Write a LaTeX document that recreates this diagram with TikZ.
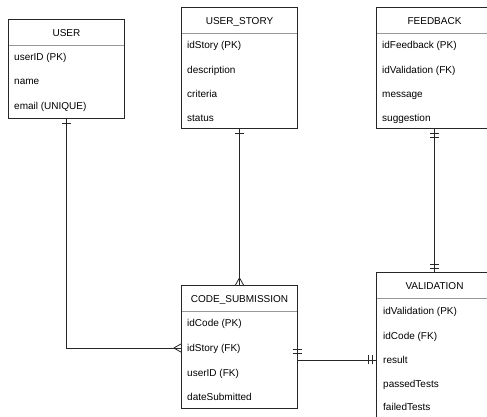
\documentclass[tikz,border=0pt]{standalone}
\usepackage{fontspec}
\setmainfont{Liberation Sans}
\usetikzlibrary{positioning, decorations.markings}

\begin{document}
\begin{tikzpicture}[x=1pt, y=-1pt,
     node distance = 0pt,
        head/.style = {minimum width=115pt, minimum height=25pt, inner sep=0pt,
                       text height=7pt, text depth=0pt, font=\fontsize{10}{12}\selectfont},
        body/.style = {minimum width=115pt, inner sep=0pt},
        attr/.style = {anchor=west, inner sep=0pt, text height=7pt, text depth=0pt,
                       font=\fontsize{10}{12}\selectfont},
       frame/.style = {draw=black!85, line width=0.8pt},
       hline/.style = {draw=black!40, line width=1.1pt},
        conn/.style = {draw=black!85, line width=0.8pt},
 erone start/.style = {postaction={decorate, decoration={markings,
                       mark=at position 5pt with {\draw[conn] (0,-4.5pt) -- (0,4.5pt);}}}},
 ermandone start/.style = {postaction={decorate, decoration={markings,
                       mark=at position 5pt with {\draw[conn] (0,-4.5pt) -- (0,4.5pt);},
                       mark=at position 9pt with {\draw[conn] (0,-4.5pt) -- (0,4.5pt);}}}},
 ermandone end/.style = {postaction={decorate, decoration={markings,
                       mark=at position -4pt with {\draw[conn] (0,-4.5pt) -- (0,4.5pt);},
                       mark=at position -8pt with {\draw[conn] (0,-4.5pt) -- (0,4.5pt);}}}},
 ermany end/.style = {postaction={decorate, decoration={markings,
                       mark=at position -8pt with {\draw[conn] (0,0) -- (8pt,4.5pt) (0,0) -- (8pt,-4.5pt);}}}}
                        ]
\clip (0,0) rectangle (487,416);
\fill[white] (0,0) rectangle (487,416);

% USER
\node (user) [head] at (66.5,32.5) {USER};
\node (user-body) [body, minimum height=73pt, below=of user] {};
\node (user-1) [attr] at (14,57) {userID (PK)};
\node (user-2) [attr] at (14,81) {name};
\node (user-3) [attr] at (14,106) {email (UNIQUE)};
\draw[frame] (user.north west) rectangle (user-body.south east);
\draw[hline] (user-body.north west) -- (user-body.north east);

% USER_STORY
\node (story) [head] at (239.5,20.5) {USER\_STORY};
\node (story-body) [body, minimum height=95pt, below=of story] {};
\node (story-1) [attr] at (187,45) {idStory (PK)};
\node (story-2) [attr] at (187,70) {description};
\node (story-3) [attr] at (187,94) {criteria};
\node (story-4) [attr] at (187,118) {status};
\draw[frame] (story.north west) rectangle (story-body.south east);
\draw[hline] (story-body.north west) -- (story-body.north east);

% FEEDBACK
\node (fb) [head] at (434.5,20.5) {FEEDBACK};
\node (fb-body) [body, minimum height=95pt, below=of fb] {};
\node (fb-1) [attr] at (382,45) {idFeedback (PK)};
\node (fb-2) [attr] at (382,70) {idValidation (FK)};
\node (fb-3) [attr] at (382,94) {message};
\node (fb-4) [attr] at (382,118) {suggestion};
\draw[frame] (fb.north west) rectangle (fb-body.south east);
\draw[hline] (fb-body.north west) -- (fb-body.north east);

% CODE_SUBMISSION
\node (code) [head] at (239.5,298.5) {CODE\_SUBMISSION};
\node (code-body) [body, minimum height=97pt, below=of code] {};
\node (code-1) [attr] at (187,323) {idCode (PK)};
\node (code-2) [attr] at (187,348) {idStory (FK)};
\node (code-3) [attr] at (187,373) {userID (FK)};
\node (code-4) [attr] at (187,397) {dateSubmitted};
\draw[frame] (code.north west) rectangle (code-body.south east);
\draw[hline] (code-body.north west) -- (code-body.north east);

% VALIDATION
\node (val) [head] at (434.5,285.5) {VALIDATION};
\node (val-body) [body, minimum height=125pt, below=of val] {};
\node (val-1) [attr] at (383,311) {idValidation (PK)};
\node (val-2) [attr] at (383,336) {idCode (FK)};
\node (val-3) [attr] at (383,359.5) {result};
\node (val-4) [attr] at (383,384) {passedTests};
\node (val-5) [attr] at (383,407) {failedTests};
\draw[frame] (val.north west) rectangle (val-body.south east);
\draw[hline] (val-body.north west) -- (val-body.north east);

% relations
\coordinate (cs-out) at ([yshift=16pt]code-body.east);
\draw[conn, erone start, ermany end] (user-body.south) |- (code-2 -| code-body.west);
\draw[conn, erone start, ermany end] (story-body.south) -- (code.north);
\draw[conn, ermandone start, ermandone end] (cs-out) -- (code-body.east) -- (code-body.east -| val-body.west);
\draw[conn, ermandone start, ermandone end] (fb-body.south) -- (val.north);
\end{tikzpicture}
\end{document}
